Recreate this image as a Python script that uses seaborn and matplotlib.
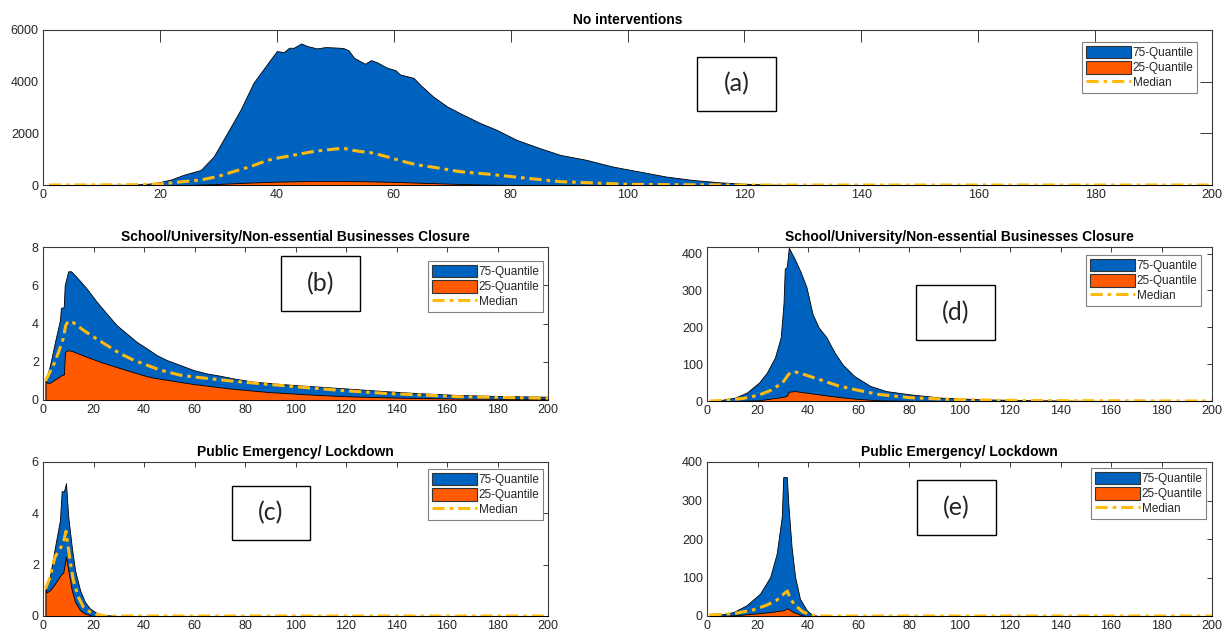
import matplotlib
matplotlib.use("Agg")
import matplotlib.pyplot as plt
import seaborn as sns
from matplotlib.patches import Patch, Rectangle
from matplotlib.lines import Line2D

# ---------------- data ----------------
# (a) No interventions
a_q75_days = [1, 15, 18, 20, 22, 24, 27, 29.2, 31.5, 33.8, 36, 38.3, 40, 41.2, 42.1, 42.9, 44.2, 45.2,
              46.9, 48.3, 50.3, 51.4, 52.3, 53.2, 55.1, 56.1, 57.1, 58.9, 60.3, 61.1, 63.4, 64.5, 66.7,
              69.1, 71.3, 74.8, 77.6, 81, 85, 88.5, 93, 97.5, 102.1, 106.7, 111.2, 115.8, 119.8, 124, 128, 200]
a_q75 = [0, 10, 50, 110, 220, 390, 583, 1102, 2009, 2916, 3953, 4666, 5184, 5145, 5313, 5313, 5480, 5378,
         5287, 5339, 5320, 5300, 5210, 4925, 4691, 4834, 4756, 4536, 4445, 4277, 4147, 3888, 3434,
         3046, 2786, 2398, 2138, 1750, 1426, 1166, 972, 713, 518, 324, 194, 104, 52, 15, 0, 0]
a_q25_days = [1, 25, 30, 35, 40, 45, 50, 55, 60, 65, 70, 75, 80, 200]
a_q25 = [0, 0, 40, 90, 130, 150, 155, 145, 120, 85, 50, 20, 0, 0]
a_med_days = [1, 15, 20, 24, 27, 29.8, 32.6, 35.5, 38.3, 40, 42.3, 44, 46.3, 48.6, 50.3, 51.4, 52.6,
              54.3, 56, 58.3, 60.6, 62.8, 64.6, 67.2, 71.3, 75.8, 80.2, 84, 88.5, 93, 100, 110, 120, 200]
a_med = [0, 10, 40, 130, 195, 324, 518, 713, 946, 1037, 1128, 1205, 1296, 1361, 1400, 1426, 1361,
         1296, 1257, 1128, 980, 842, 760, 674, 518, 428, 324, 233, 130, 91, 26, 10, 0, 0]

# (b) School/University/Non-essential Businesses Closure (left)
b_q75_days = [1, 2.8, 4.75, 6.7, 7.1, 8.2, 8.6, 9.4, 10, 11.1, 13.3, 17.3, 21.3, 25.2, 29.2, 33.1, 37.1,
              41.1, 45, 49, 54.3, 59.5, 64.8, 70.1, 75.4, 83.3, 91.2, 100, 119.4, 134.6, 149.7, 164.9, 180, 200]
b_q75 = [1.0, 1.83, 3.04, 4.17, 4.82, 4.85, 6.0, 6.43, 6.73, 6.73, 6.43, 5.83, 5.13, 4.52, 3.91, 3.48, 3.04,
         2.70, 2.35, 2.09, 1.83, 1.57, 1.39, 1.27, 1.13, 0.96, 0.87, 0.78, 0.61, 0.47, 0.35, 0.26, 0.21, 0.17]
b_q25_days = [1, 1.5, 2.8, 5.4, 7.4, 8.3, 8.7, 10, 11.3, 17.3, 22.6, 29.2, 35.8, 41, 43.6, 58.8, 74, 89,
              104, 119, 135, 150, 165, 200]
b_q25 = [1.0, 0.9, 0.9, 1.13, 1.30, 1.34, 2.52, 2.6, 2.57, 2.26, 2.0, 1.72, 1.45, 1.25, 1.17, 0.85, 0.6,
         0.42, 0.3, 0.2, 0.14, 0.1, 0.07, 0.05]
b_med_days = [1, 2.8, 4.75, 6.7, 8, 9, 10, 12, 16, 20, 25.2, 30.5, 35.8, 41, 46.3, 54.3, 58.8, 74, 89,
              104, 119, 135, 150, 165, 180, 200]
b_med = [1.0, 1.48, 2.0, 2.7, 3.2, 3.9, 4.12, 4.05, 3.65, 3.30, 2.87, 2.43, 2.09, 1.83, 1.57, 1.30, 1.22,
         1.0, 0.82, 0.65, 0.49, 0.35, 0.26, 0.17, 0.14, 0.09]

# (c) Public Emergency/ Lockdown (left)
c_q75_days = [1, 2.8, 4.75, 6.7, 7.4, 8.3, 9.1, 10, 11.4, 12.7, 14.7, 16.6, 18.6, 21.3, 23.9, 30, 200]
c_q75 = [1.03, 1.58, 2.69, 3.73, 4.86, 4.86, 5.18, 3.86, 2.69, 1.78, 1.0, 0.55, 0.29, 0.12, 0.04, 0, 0]
c_q25_days = [1, 1.5, 2.8, 4.75, 7.4, 8, 9.1, 10, 11.4, 12.7, 14.7, 16.6, 20, 200]
c_q25 = [1.03, 0.92, 1.0, 1.26, 1.65, 1.68, 2.30, 1.78, 1.0, 0.55, 0.22, 0.09, 0, 0]
c_med_days = [1, 2.8, 4.75, 6.7, 8, 9.1, 9.8, 10.7, 12, 14, 16, 18.6, 21.3, 25, 200]
c_med = [1.06, 1.52, 2.30, 2.62, 2.82, 3.30, 2.82, 2.17, 1.39, 0.74, 0.35, 0.16, 0.06, 0, 0]

# (d) School/University/Non-essential Businesses Closure (right)
d_q75_days = [1, 4.8, 11.1, 15.8, 20.6, 23.7, 26.9, 29.2, 30.3, 30.8, 31.6, 32.4, 34.7, 37.1, 39.4, 41.8,
              44.2, 47.3, 50.5, 53.6, 58.3, 64.6, 70.9, 80.4, 93, 108.7, 130.7, 150, 200]
d_q75 = [0, 2, 9, 23, 50, 77, 118, 173, 264, 359, 364, 416, 386, 350, 309, 236,
         200, 173, 132, 100, 68, 41, 27, 18, 9, 4.5, 2, 0.5, 0]
d_q25_days = [1, 10, 20.6, 30, 31.6, 32.4, 34.7, 44.2, 52.1, 59.9, 67.8, 80, 200]
d_q25 = [0, 0, 2, 11, 14, 25, 27, 18, 11, 5.5, 2, 0.5, 0]
d_med_days = [1, 4.8, 14.3, 20.6, 25.3, 30, 32.4, 33.9, 36.3, 44.2, 52.1, 59.9, 67.8, 80.4, 96.1, 115, 140, 200]
d_med = [0, 1, 7, 16, 29, 50, 73, 80, 77, 59, 41, 29, 18, 9, 4.5, 2, 1, 0]

# (e) Public Emergency/ Lockdown (right)
e_q75_days = [1, 5.1, 10.4, 15.7, 21, 25, 27.6, 29.6, 30.2, 31.6, 32.2, 33.5, 34.9, 36.8, 39.5, 41.5, 44, 200]
e_q75 = [2, 3.5, 10, 28, 58, 101, 162, 257, 361, 361, 292, 179, 101, 45, 15, 4, 0, 0]
e_q25_days = [1, 5, 11.7, 18.4, 25, 30.2, 31.8, 34.2, 36.8, 39, 200]
e_q25 = [0, 0.5, 2, 6, 10, 15, 20, 10, 3.5, 0, 0]
e_med_days = [1, 10.4, 18.4, 23.6, 27.6, 30.2, 31.8, 33, 34.7, 37.9, 41, 43, 200]
e_med = [3, 6, 16, 28, 41, 56, 65, 45, 29, 11, 3, 0, 0]

titles = ["No interventions",
          "School/University/Non-essential Businesses Closure",
          "Public Emergency/ Lockdown",
          "School/University/Non-essential Businesses Closure",
          "Public Emergency/ Lockdown"]
panel_labels = ["(a)", "(b)", "(c)", "(d)", "(e)"]
legend_labels = ["75-Quantile", "25-Quantile", "Median"]
x_ticks = list(range(0, 201, 20))

# ---------------- style ----------------
sns.set_theme(style="white")
plt.rcParams["font.family"] = ["Liberation Sans", "DejaVu Sans"]
BLUE = "#0062BF"
ORANGE = "#FF5A00"
GOLD = "#FFBA10"
AX_COLOR = "#3a3a3a"
MED_DASH = (0, (4.0, 1.6, 1.2, 1.6))

W, H = 1223, 637
fig = plt.figure(figsize=(W / 100, H / 100), dpi=100)


def frac_rect(x0, y0, x1, y1):
    return [x0 / W, 1 - y1 / H, (x1 - x0) / W, (y1 - y0) / H]


panels = [
    dict(data=(a_q75_days, a_q75, a_q25_days, a_q25, a_med_days, a_med),
         rect=(43, 30, 1212, 185), ylim=(0, 6000), yticks=[0, 2000, 4000, 6000], ticklen=8.4,
         leg=(1197, 42), box=(697, 57, 776, 111)),
    dict(data=(b_q75_days, b_q75, b_q25_days, b_q25, b_med_days, b_med),
         rect=(43, 247, 548, 400), ylim=(0, 8), yticks=[0, 2, 4, 6, 8], ticklen=3.6,
         leg=(543, 261), box=(281, 256, 360, 311)),
    dict(data=(c_q75_days, c_q75, c_q25_days, c_q25, c_med_days, c_med),
         rect=(43, 462, 548, 616), ylim=(0, 6), yticks=[0, 2, 4, 6], ticklen=3.6,
         leg=(543, 469), box=(232, 486, 310, 540)),
    dict(data=(d_q75_days, d_q75, d_q25_days, d_q25, d_med_days, d_med),
         rect=(707, 247, 1212, 401), ylim=(0, 418), yticks=[0, 100, 200, 300, 400], ticklen=3.6,
         leg=(1201, 255), box=(916, 285, 995, 340)),
    dict(data=(e_q75_days, e_q75, e_q25_days, e_q25, e_med_days, e_med),
         rect=(707, 462, 1212, 616), ylim=(0, 400), yticks=[0, 100, 200, 300, 400], ticklen=3.6,
         leg=(1206, 468), box=(917, 480, 996, 535)),
]

for i, p in enumerate(panels):
    q75_d, q75, q25_d, q25, med_d, med = p["data"]
    ax = fig.add_axes(frac_rect(*p["rect"]))
    ax.fill_between(q75_d, q75, 0, facecolor=BLUE, edgecolor="black", linewidth=0.6, zorder=2)
    ax.fill_between(q25_d, q25, 0, facecolor=ORANGE, edgecolor="black", linewidth=0.6, zorder=3)
    sns.lineplot(x=med_d, y=med, ax=ax, color=GOLD, linewidth=2.2, legend=False, zorder=4)
    ax.lines[-1].set_linestyle(MED_DASH)

    ax.set_xlim(0, 200)
    ax.set_ylim(*p["ylim"])
    ax.set_xticks(x_ticks)
    ax.set_yticks(p["yticks"])
    ax.set_xlabel("")
    ax.set_ylabel("")
    ax.tick_params(direction="in", length=p["ticklen"], width=0.7, top=True, right=True,
                   labelsize=9, color=AX_COLOR, labelcolor="#262626", pad=3)
    for s in ax.spines.values():
        s.set_color(AX_COLOR)
        s.set_linewidth(0.8)
        s.set_visible(True)
    ax.set_title(titles[i], fontsize=10, fontweight="bold", pad=4, color="black")

    handles = [Patch(facecolor=BLUE, edgecolor="#333333", linewidth=0.8, label=legend_labels[0]),
               Patch(facecolor=ORANGE, edgecolor="#333333", linewidth=0.8, label=legend_labels[1]),
               Line2D([0], [0], color=GOLD, linewidth=2.2, linestyle=MED_DASH, label=legend_labels[2])]
    lx, ly = p["leg"]
    leg = ax.legend(handles=handles, loc="upper right", bbox_to_anchor=(lx / W, 1 - ly / H),
                    bbox_transform=fig.transFigure, fontsize=8.5, frameon=True, fancybox=False,
                    edgecolor="#808080", framealpha=1, borderpad=0.3, handlelength=3.8,
                    handleheight=1.3, handletextpad=0.15, labelspacing=0.15, borderaxespad=0)
    leg.get_frame().set_linewidth(0.8)

    bx0, by0, bx1, by1 = p["box"]
    fig.add_artist(Rectangle((bx0 / W, 1 - by1 / H), (bx1 - bx0) / W, (by1 - by0) / H,
                             transform=fig.transFigure, facecolor="white", edgecolor="black",
                             linewidth=1.0, zorder=5))
    fig.text((bx0 + bx1) / 2 / W, 1 - (by0 + by1) / 2 / H, panel_labels[i], ha="center", va="center",
             fontsize=18, family=["Lato", "DejaVu Sans"], zorder=6)

fig.savefig("out.png", dpi=100)
